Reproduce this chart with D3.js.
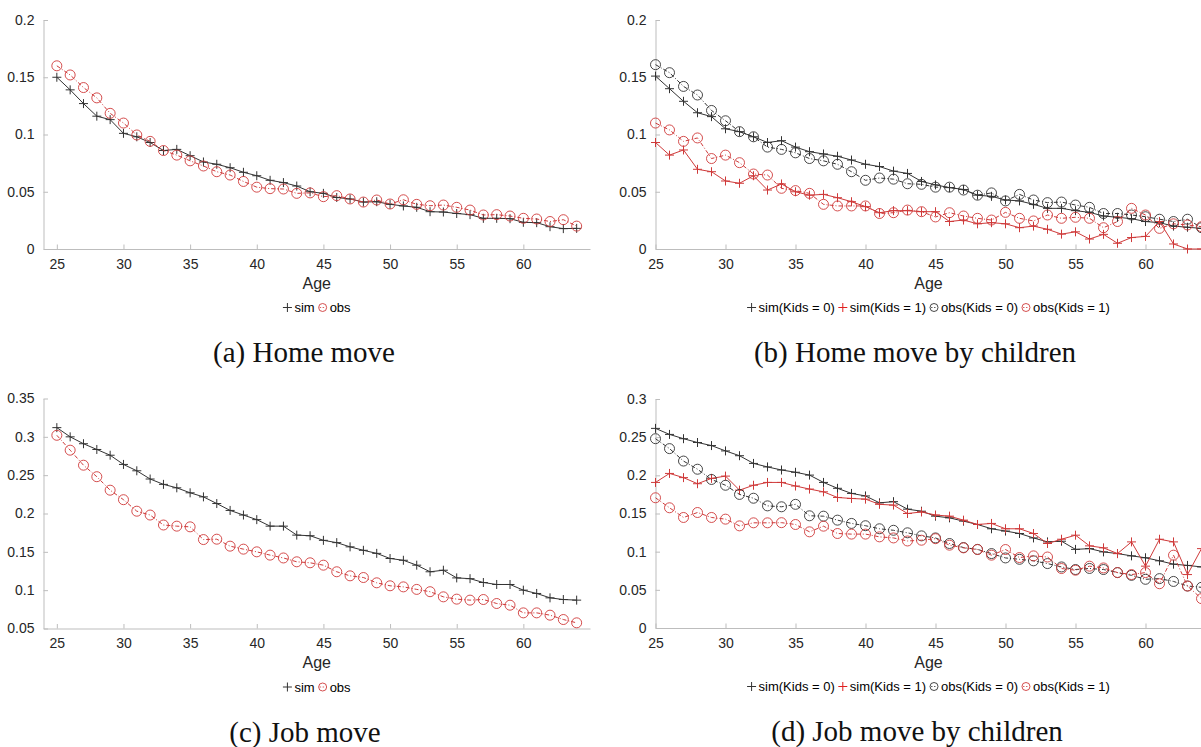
<!DOCTYPE html>
<html>
<head>
<meta charset="utf-8">
<script src="https://cdn.jsdelivr.net/npm/d3@7"></script>
<style>
body { margin: 0; background: #fff; }
svg { display: block; }
.axis path, .axis line { stroke: #bdbdbd; }
.axis text { fill: #262626; font-family: "Liberation Sans", Arial, sans-serif; font-size: 14px; }
</style>
</head>
<body>
<svg id="fig" width="1201" height="747"></svg>
<script>
// ages on the x axis
var ages = [25,26,27,28,29,30,31,32,33,34,35,36,37,38,39,40,41,42,43,44,
            45,46,47,48,49,50,51,52,53,54,55,56,57,58,59,60,61,62,63,64];
var xTicks = [25,30,35,40,45,50,55,60];
var yTicksHome = [0,0.05,0.1,0.15,0.2];
var yTicksJobA = [0.05,0.1,0.15,0.2,0.25,0.3,0.35];
var yTicksJobB = [0,0.05,0.1,0.15,0.2,0.25,0.3];

// (a) home move
var homeSim = [0.150,0.139,0.127,0.116,0.113,0.101,0.098,0.093,0.086,0.087,
  0.0815,0.076,0.074,0.071,0.067,0.064,0.060,0.058,0.055,0.050,
  0.0486,0.045,0.0437,0.041,0.0413,0.039,0.0376,0.0364,0.0326,0.0323,
  0.031,0.030,0.0268,0.0268,0.0265,0.0233,0.023,0.0195,0.0178,0.018];
var homeObs = [0.160,0.152,0.141,0.132,0.1185,0.110,0.0996,0.094,0.086,0.082,
  0.077,0.0725,0.0675,0.0646,0.059,0.054,0.0527,0.0524,0.0486,0.049,
  0.0457,0.0466,0.0437,0.041,0.0428,0.0393,0.043,0.039,0.0378,0.0384,
  0.0364,0.034,0.0297,0.030,0.0288,0.0268,0.0262,0.024,0.0256,0.020];

// (b) home move by children
var homeSimK0 = [0.151,0.140,0.129,0.119,0.1156,0.105,0.1025,0.098,0.093,0.0946,
  0.089,0.085,0.083,0.081,0.0777,0.074,0.072,0.068,0.066,0.059,
  0.056,0.0536,0.052,0.047,0.046,0.0428,0.042,0.039,0.0355,0.0355,
  0.0335,0.032,0.0288,0.0277,0.0265,0.024,0.023,0.020,0.019,0.018];
var homeSimK1 = [0.093,0.082,0.0865,0.0696,0.0675,0.0594,0.0574,0.064,0.0515,0.0568,
  0.050,0.047,0.0477,0.0448,0.0413,0.037,0.0317,0.0335,0.0335,0.0326,
  0.0326,0.024,0.0253,0.022,0.023,0.022,0.0186,0.020,0.0172,0.013,
  0.015,0.0087,0.0128,0.005,0.010,0.011,0.024,0.0044,0.0,0.0];
var homeObsK0 = [0.161,0.154,0.142,0.1345,0.121,0.112,0.1025,0.098,0.089,0.087,
  0.084,0.079,0.077,0.074,0.0675,0.060,0.062,0.061,0.057,0.0565,
  0.054,0.054,0.0515,0.047,0.049,0.042,0.0477,0.0428,0.0405,0.041,
  0.0384,0.0364,0.031,0.031,0.0297,0.0282,0.026,0.024,0.026,0.0186];
var homeObsK1 = [0.110,0.104,0.094,0.097,0.079,0.082,0.0754,0.0655,0.0646,0.053,
  0.051,0.0486,0.039,0.0376,0.0376,0.0376,0.031,0.0317,0.034,0.0326,
  0.028,0.0317,0.0288,0.0268,0.0253,0.032,0.0268,0.0245,0.0297,0.0268,
  0.0277,0.0268,0.0186,0.024,0.0355,0.0297,0.018,0.022,0.021,0.0195];

// (c) job move
var jobSim = [0.312,0.300,0.291,0.2835,0.276,0.264,0.2557,0.245,0.238,0.2335,
  0.227,0.2217,0.213,0.204,0.198,0.192,0.1835,0.1835,0.1718,0.171,
  0.165,0.162,0.1565,0.152,0.148,0.1413,0.139,0.1326,0.124,0.126,
  0.116,0.115,0.110,0.1074,0.1074,0.100,0.0957,0.090,0.0878,0.087];
var jobObs = [0.302,0.2826,0.263,0.248,0.2304,0.218,0.203,0.198,0.185,0.1835,
  0.1826,0.166,0.1665,0.1574,0.1535,0.150,0.1457,0.142,0.137,0.1357,
  0.1326,0.124,0.1187,0.1165,0.1096,0.1057,0.1043,0.101,0.098,0.0913,
  0.0883,0.087,0.0878,0.0826,0.0804,0.0704,0.0704,0.0674,0.0617,0.0574];

// (d) job move by children
var jobSimK0 = [0.2615,0.2536,0.248,0.243,0.239,0.232,0.2257,0.2156,0.211,0.207,
  0.204,0.2003,0.1907,0.183,0.1763,0.173,0.164,0.1655,0.1557,0.153,
  0.1465,0.1443,0.140,0.1356,0.130,0.127,0.1238,0.118,0.1128,0.1137,
  0.103,0.104,0.0997,0.0975,0.0945,0.092,0.088,0.0836,0.082,0.080];
var jobSimK1 = [0.1907,0.2025,0.197,0.189,0.196,0.199,0.1806,0.187,0.1907,0.1907,
  0.186,0.182,0.1784,0.171,0.1697,0.1688,0.162,0.161,0.150,0.152,
  0.148,0.1465,0.1413,0.1356,0.137,0.130,0.130,0.1238,0.1107,0.1163,
  0.1216,0.1076,0.105,0.0975,0.1128,0.081,0.1163,0.1128,0.070,0.104];
var jobObsK0 = [0.248,0.235,0.2187,0.208,0.1946,0.187,0.175,0.170,0.160,0.1588,
  0.162,0.147,0.1465,0.1413,0.137,0.134,0.130,0.128,0.1247,0.1207,
  0.118,0.1107,0.1054,0.103,0.0975,0.0918,0.090,0.088,0.0844,0.080,
  0.0766,0.078,0.0766,0.0726,0.069,0.0638,0.0647,0.061,0.055,0.0533];
var jobObsK1 = [0.1706,0.1575,0.1448,0.1513,0.1448,0.1426,0.1338,0.1378,0.1378,0.138,
  0.1356,0.126,0.1334,0.1238,0.123,0.123,0.1194,0.118,0.114,0.115,
  0.117,0.1085,0.105,0.1028,0.0954,0.1028,0.0923,0.0945,0.093,0.0779,
  0.0757,0.081,0.0787,0.0726,0.070,0.0726,0.058,0.0954,0.055,0.0385];

var black = "#333333";
var red = "#cf3a3a";
var plusPath = "M-4.5,0H4.5M0,-4.5V4.5";//the + marker
var svg = d3.select("#fig");

function drawPanel(p){
	var x = d3.scaleLinear().domain(p.xDomain).range([p.left, p.right]);
	var y = d3.scaleLinear().domain(p.yDomain).range([p.bottom, p.top]);
	var g = svg.append("g");

	//axes, box off, ticks pointing in
	g.append("g")
	.attr("class", "axis")
	.attr("transform", "translate(0," + p.bottom + ")")
	.call(d3.axisBottom(x).tickValues(xTicks).tickSizeInner(-4.5).tickSizeOuter(0).tickPadding(10).tickFormat(d3.format("d")));

	g.append("g")
	.attr("class", "axis")
	.attr("transform", "translate(" + p.left + ",0)")
	.call(d3.axisLeft(y).tickValues(p.yTicks).tickSizeInner(-4.5).tickSizeOuter(0).tickPadding(9).tickFormat(d3.format("~g")));

	g.selectAll(".axis .domain").attr("stroke", "#bdbdbd");

	var line = d3.line()
	.x(function(d, i) { return x(ages[i]); })
	.y(function(d) { return y(d); });

	p.series.forEach(function(s){
		g.append("path")
		.datum(s.values)
		.attr("d", line)
		.attr("fill", "none")
		.attr("stroke", s.color)
		.attr("stroke-width", 1)
		.attr("stroke-dasharray", s.marker == "o" ? "4,2,1,2" : null);

		var m = g.append("g").selectAll("g")
		.data(s.values)
		.enter().append("g")
		.attr("transform", function(d, i) { return "translate(" + x(ages[i]) + "," + y(d) + ")"; });
		if (s.marker == "o") {
			m.append("circle").attr("r", 5).attr("fill", "none").attr("stroke", s.color).attr("stroke-width", 0.9);
		} else {
			m.append("path").attr("d", plusPath).attr("fill", "none").attr("stroke", s.color).attr("stroke-width", 1);
		}
	});

	var mid = (p.left + p.right) / 2;
	g.append("text")
	.attr("x", mid)
	.attr("y", p.bottom + 39.5)
	.attr("text-anchor", "middle")
	.attr("font-family", "Liberation Sans, Arial, sans-serif")
	.attr("font-size", 16)
	.attr("fill", "#262626")
	.text("Age");

	//legend in one row under the axis label
	var leg = g.append("g");
	var cx = 0;
	p.series.forEach(function(s){
		var it = leg.append("g").attr("transform", "translate(" + cx + ",0)");
		if (s.marker == "o") {
			it.append("circle").attr("r", 4).attr("fill", "none").attr("stroke", s.color).attr("stroke-width", 0.9);
			it.append("line").attr("x1", -3).attr("x2", 3).attr("stroke", s.color).attr("stroke-width", 0.8).attr("stroke-dasharray", "1.5,1.5");
		} else {
			it.append("path").attr("d", plusPath).attr("fill", "none").attr("stroke", s.legColor || s.color);
		}
		var t = it.append("text")
		.attr("x", 7)
		.attr("y", 4.5)
		.attr("font-family", "Liberation Sans, Arial, sans-serif")
		.attr("font-size", 13)
		.attr("fill", "#000")
		.text(s.name);
		cx += 7 + t.node().getComputedTextLength() + 8;
	});
	var w = cx - 8 + 4.5;
	leg.attr("transform", "translate(" + (mid - w / 2 + 4.5) + "," + (p.bottom + 58.5) + ")");

	svg.append("text")
	.attr("x", p.capX)
	.attr("y", p.bottom + 113)
	.attr("text-anchor", "middle")
	.attr("font-family", "Liberation Serif, Times New Roman, serif")
	.attr("font-size", 29)
	.attr("fill", "#111")
	.text(p.caption);
}

drawPanel({left: 43.5, right: 590, top: 20, bottom: 249, xDomain: [24, 65], yDomain: [0, 0.2], yTicks: yTicksHome,
	capX: 304, caption: "(a) Home move",
	series: [{name: "sim", values: homeSim, color: black, marker: "+"},
	         {name: "obs", values: homeObs, color: red, marker: "o"}]});

drawPanel({left: 655.5, right: 1201.5, top: 20, bottom: 249, xDomain: [25, 64], yDomain: [0, 0.2], yTicks: yTicksHome,
	capX: 915, caption: "(b) Home move by children",
	series: [{name: "sim(Kids = 0)", values: homeSimK0, color: black, marker: "+"},
	         {name: "sim(Kids = 1)", values: homeSimK1, color: red, legColor: "#e0201f", marker: "+"},
	         {name: "obs(Kids = 0)", values: homeObsK0, color: black, marker: "o"},
	         {name: "obs(Kids = 1)", values: homeObsK1, color: red, marker: "o"}]});

drawPanel({left: 43.5, right: 590, top: 398.5, bottom: 628.5, xDomain: [24, 65], yDomain: [0.05, 0.35], yTicks: yTicksJobA,
	capX: 305, caption: "(c) Job move",
	series: [{name: "sim", values: jobSim, color: black, marker: "+"},
	         {name: "obs", values: jobObs, color: red, marker: "o"}]});

drawPanel({left: 655.5, right: 1201.5, top: 399, bottom: 628, xDomain: [25, 64], yDomain: [0, 0.3], yTicks: yTicksJobB,
	capX: 917, caption: "(d) Job move by children",
	series: [{name: "sim(Kids = 0)", values: jobSimK0, color: black, marker: "+"},
	         {name: "sim(Kids = 1)", values: jobSimK1, color: red, legColor: "#e0201f", marker: "+"},
	         {name: "obs(Kids = 0)", values: jobObsK0, color: black, marker: "o"},
	         {name: "obs(Kids = 1)", values: jobObsK1, color: red, marker: "o"}]});
</script>
</body>
</html>
